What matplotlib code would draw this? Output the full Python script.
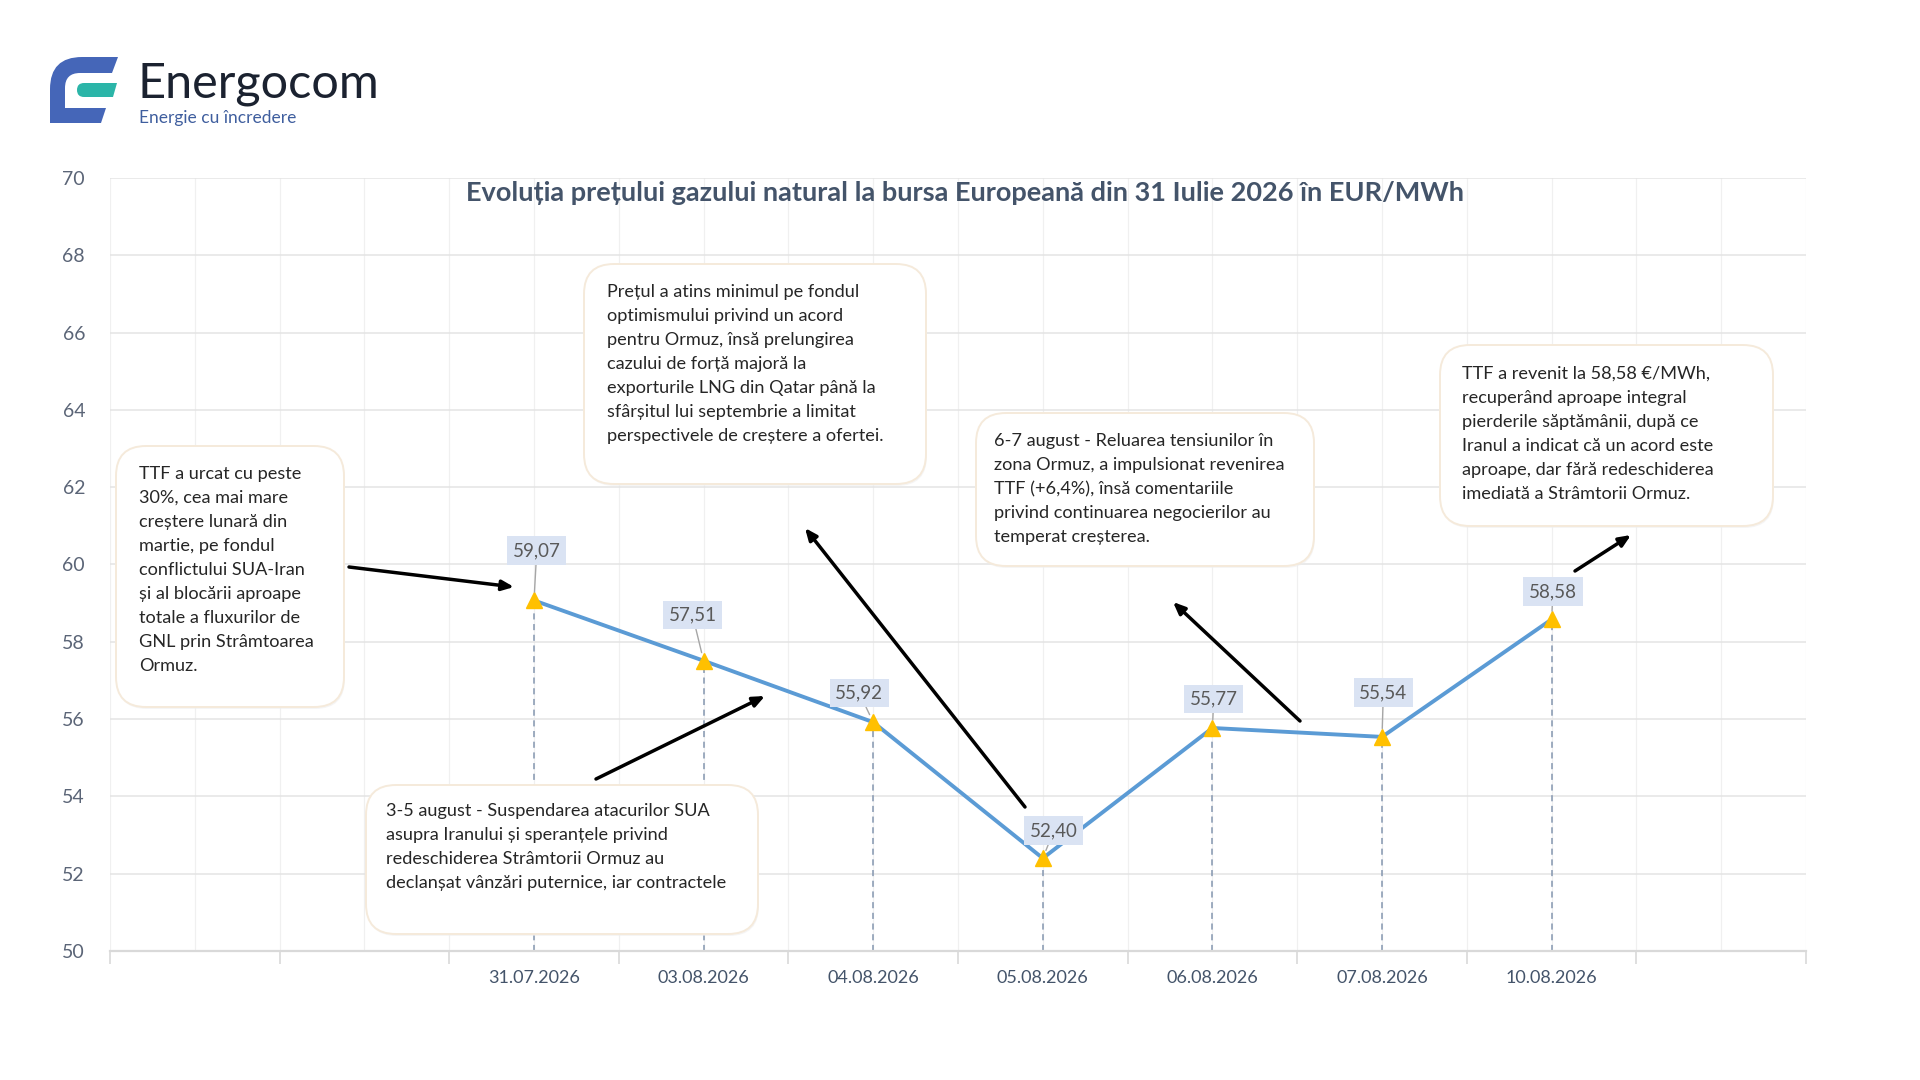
import numpy as np
import matplotlib.pyplot as plt
from matplotlib.patches import FancyBboxPatch, PathPatch
from matplotlib.path import Path

plt.rcParams['font.family'] = ['Lato', 'DejaVu Sans']

# data
dates = ['31.07.2026', '03.08.2026', '04.08.2026', '05.08.2026',
         '06.08.2026', '07.08.2026', '10.08.2026']
prices = [59.07, 57.51, 55.92, 52.40, 55.77, 55.54, 58.58]
y_ticks = list(range(50, 71, 2))
title = 'Evoluția prețului gazului natural la bursa Europeană din 31 Iulie 2026 în EUR/MWh'

notes = [
    'TTF a urcat cu peste\n30%, cea mai mare\ncreștere lunară din\nmartie, pe fondul\n'
    'conflictului SUA-Iran\nși al blocării aproape\ntotale a fluxurilor de\n'
    'GNL prin Strâmtoarea\nOrmuz.',
    '3-5 august - Suspendarea atacurilor SUA\nasupra Iranului și speranțele privind\n'
    'redeschiderea Strâmtorii Ormuz au\ndeclanșat vânzări puternice, iar contractele',
    'Prețul a atins minimul pe fondul\noptimismului privind un acord\n'
    'pentru Ormuz, însă prelungirea\ncazului de forță majoră la\n'
    'exporturile LNG din Qatar până la\nsfârșitul lui septembrie a limitat\n'
    'perspectivele de creștere a ofertei.',
    '6-7 august - Reluarea tensiunilor în\nzona Ormuz, a impulsionat revenirea\n'
    'TTF (+6,4%), însă comentariile\nprivind continuarea negocierilor au\n'
    'temperat creșterea.',
    'TTF a revenit la 58,58 €/MWh,\nrecuperând aproape integral\n'
    'pierderile săptămânii, după ce\nIranul a indicat că un acord este\n'
    'aproape, dar fără redeschiderea\nimediată a Strâmtorii Ormuz.',
]

# layout (pixels of the 1920x1080 canvas, y measured from top)
W, H = 1920, 1080
def ff(x, y):
    return x / W, 1 - y / H

note_boxes = [(116, 446, 344, 707), (366, 785, 758, 934), (584, 264, 926, 484),
              (976, 413, 1314, 566), (1440, 345, 1773, 526)]
note_text_pos = [(139, 475), (386, 812), (607, 293), (994, 442), (1462, 375)]
arrows = [((349, 567), (514, 587)), ((596, 779), (765, 696)), ((1025, 807), (805, 528)),
          ((1300, 721), (1173, 602)), ((1575, 571), (1631, 535))]
label_offsets = [(2, 36), (-8, 33), (-10, 21), (8, 20), (1, 21), (1, 32), (1, 20)]

n_slots = 10
first_slot = 2
x = np.arange(len(dates)) + first_slot + 0.5

fig = plt.figure(figsize=(19.2, 10.8), dpi=100)
fig.patch.set_facecolor('white')
ax = fig.add_axes([110 / W, 1 - 951 / H, (1806 - 110) / W, (951 - 178) / H])

ax.set_xlim(0, n_slots)
ax.set_ylim(50, 70)
ax.set_yticks(y_ticks)
ax.set_yticklabels([str(v) for v in y_ticks])
ax.set_xticks(np.arange(0, n_slots + 1))
ax.set_xticklabels([])
ax.set_xticks(np.arange(n_slots) + 0.5, minor=True)
ax.set_xticklabels([''] * first_slot + dates + [''] * (n_slots - first_slot - len(dates)),
                   minor=True)
ax.tick_params(axis='x', which='major', length=9, width=1.2, color='#D9D9D9', direction='out')
ax.tick_params(axis='x', which='minor', length=0, pad=14, labelsize=13, labelcolor='#44546A')
ax.tick_params(axis='y', length=0, pad=18, labelsize=14, labelcolor='#5B6577')
for s in ['top', 'right', 'left']:
    ax.spines[s].set_visible(False)
ax.spines['bottom'].set_color('#D9D9D9')
ax.spines['bottom'].set_linewidth(1.6)
ax.grid(axis='y', color='#E4E4E4', lw=1.1)
ax.grid(axis='x', which='both', color='#F0F0F0', lw=0.9)
ax.set_axisbelow(True)

ax.text((965 - 110) / (1806 - 110), (951 - 193) / (951 - 178),
        title, transform=ax.transAxes, ha='center', va='center',
        fontsize=19.5, fontweight='bold', color='#44546A')

# drop lines, series line and markers
ax.vlines(x, 50, prices, colors='#8496B0', linestyles=(0, (4, 3)), lw=1.1, zorder=2)
ax.plot(x, prices, color='#5B9BD5', lw=2.8, zorder=3)
ax.plot(x, prices, ls='none', marker='^', markersize=12, color='#FFC000', zorder=4)

for xi, p, (dx, dy) in zip(x, prices, label_offsets):
    ax.annotate(f'{p:.2f}'.replace('.', ','), xy=(xi, p), xytext=(dx, dy),
                textcoords='offset points', ha='center', va='center',
                fontsize=13.5, color='#595959', zorder=5,
                bbox=dict(boxstyle='square,pad=0.3', fc='#DAE3F3', ec='none'),
                arrowprops=dict(arrowstyle='-', color='#A6A6A6', lw=1,
                                shrinkA=0, shrinkB=6))

# annotation boxes
for (x0, y0, x1, y1), (tx, ty), txt in zip(note_boxes, note_text_pos, notes):
    bx0, by1 = ff(x0, y1)
    shadow = FancyBboxPatch((bx0 * 19.2 + 0.01, by1 * 10.8 - 0.02), (x1 - x0) / 100,
                            (y1 - y0) / 100, boxstyle='round,pad=0,rounding_size=0.3',
                            transform=fig.dpi_scale_trans, fc='#EFEFEF', ec='none',
                            alpha=0.6, zorder=5.5)
    fig.add_artist(shadow)
    patch = FancyBboxPatch((bx0 * 19.2, by1 * 10.8), (x1 - x0) / 100, (y1 - y0) / 100,
                           boxstyle='round,pad=0,rounding_size=0.3',
                           transform=fig.dpi_scale_trans, fc='white', ec='#F5EADB',
                           lw=1.4, zorder=6)
    fig.add_artist(patch)
    fig.text(*ff(tx, ty - 9), txt, ha='left', va='top', fontsize=13.1,
             color='#262626', linespacing=1.62, zorder=7)

for (t0, t1) in arrows:
    ax.annotate('', xy=ff(*t1), xytext=ff(*t0), xycoords='figure fraction',
                textcoords='figure fraction', annotation_clip=False,
                arrowprops=dict(arrowstyle='-|>,head_length=0.7,head_width=0.3',
                                color='black', lw=2.5, shrinkA=0, shrinkB=0), zorder=8)

# logo
blue = [(118, 57), (82, 57), (50, 57), (50, 89), (50, 123), (101, 123), (106, 108),
        (65, 108), (65, 88), (65, 73), (80, 73), (112, 73), (118, 57)]
blue_codes = [Path.MOVETO, Path.LINETO, Path.CURVE3, Path.CURVE3, Path.LINETO, Path.LINETO,
              Path.LINETO, Path.LINETO, Path.LINETO, Path.CURVE3, Path.CURVE3, Path.LINETO,
              Path.CLOSEPOLY]
teal = [(84, 83), (117, 83), (113, 97), (84, 97), (77, 97), (77, 90), (77, 83), (84, 83), (84, 83)]
teal_codes = [Path.MOVETO, Path.LINETO, Path.LINETO, Path.LINETO, Path.CURVE3, Path.CURVE3,
              Path.CURVE3, Path.CURVE3, Path.CLOSEPOLY]
for pts, codes, col in [(blue, blue_codes, '#4566B8'), (teal, teal_codes, '#2BB5A8')]:
    fig.add_artist(PathPatch(Path([ff(*p) for p in pts], codes), fc=col, ec='none',
                             transform=fig.transFigure))
fig.text(*ff(138, 97), 'Energocom', ha='left', va='baseline', fontsize=35, color='#1B2230')
fig.text(*ff(139, 123), 'Energie cu încredere', ha='left', va='baseline', fontsize=12.5,
         color='#3F5E9E')

fig.savefig('out.png', dpi=100, facecolor='white')
